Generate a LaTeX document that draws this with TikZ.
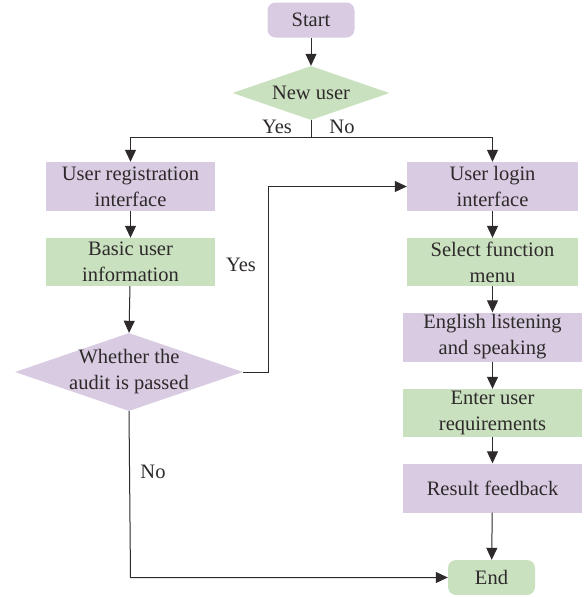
\documentclass[tikz,border=0pt]{standalone}
\usepackage{fontspec}
\setmainfont{Liberation Serif}
\usetikzlibrary{shapes.geometric,arrows.meta}
\definecolor{lav}{HTML}{D9CCE2}
\definecolor{grn}{HTML}{C9E1BF}
\definecolor{ln}{HTML}{2E2A2B}
\begin{document}
\begin{tikzpicture}[x=1pt,y=-1pt,
  font=\fontsize{20.5}{26}\selectfont,
  txt/.style={text=ln},
  boxl/.style={fill=lav,draw=none,minimum height=49pt,align=center,inner sep=0pt,text=ln},
  boxg/.style={fill=grn,draw=none,minimum height=48pt,align=center,inner sep=0pt,text=ln},
  term/.style={rounded corners=8pt,minimum width=87pt,minimum height=35pt,inner sep=0pt,text=ln},
  dia/.style={diamond,inner sep=0pt},
  conn/.style={draw=ln,line width=1pt},
  arr/.style={conn,-{Triangle[length=12pt,width=11pt]}}]
\useasboundingbox (0,0) rectangle (584,597);
\node[term,fill=lav] (start) at (311,20) {Start};
\node[dia,fill=grn,minimum width=157pt,minimum height=54pt] (new) at (311,93) {};
\node[txt] (newt) at (new) {New user};
\node[boxl,minimum width=169pt] (reg) at (130.5,186.5) {User registration\\interface};
\node[boxg,minimum width=169pt] (basic) at (130.5,262) {Basic user\\information};
\node[dia,fill=lav,minimum width=228pt,minimum height=78pt] (audit) at (129,372) {};
\node[txt,align=center] (auditt) at (audit) {Whether the\\audit is passed};
\node[boxl,minimum width=171pt] (login) at (492.5,186.5) {User login\\interface};
\node[boxg,minimum width=171pt] (menu) at (492.5,262) {Select function\\menu};
\node[boxl,minimum width=179pt] (eng) at (492.5,337) {English listening\\and speaking};
\node[boxg,minimum width=179pt] (req) at (492.5,413) {Enter user\\requirements};
\node[boxl,minimum width=179pt] (res) at (492.5,488) {Result feedback};
\node[term,fill=grn] (end) at (491.5,577.5) {End};
\coordinate (split) at (311,137);
\coordinate (splitL) at (130.5,137);
\coordinate (splitR) at (492.5,137);
\coordinate (yesA) at (268,372);
\coordinate (yesB) at (268,186.5);
\coordinate (noA) at (130.5,577.5);
\node[txt] (yes1) at (277,127) {Yes};
\node[txt] (no1) at (342,127) {No};
\node[txt] (yes2) at (241,265) {Yes};
\node[txt] (no2) at (153,472) {No};
\draw[arr] (start) -- (new);
\draw[conn] (new.south) -- (split);
\draw[conn] (splitL) -- (splitR);
\draw[arr] (splitL) -- (reg);
\draw[arr] (splitR) -- (login);
\draw[arr] (reg) -- (basic);
\draw[arr] (basic) -- (audit.north);
\draw[arr] (audit.east) -- (yesA) -- (yesB) -- (login.west);
\draw[arr] (audit.south) -- (noA) -- (end.west);
\draw[arr] (login) -- (menu);
\draw[arr] (menu) -- (eng);
\draw[arr] (eng) -- (req);
\draw[arr] (req) -- (res);
\draw[arr] (res) -- (end);
\end{tikzpicture}
\end{document}
